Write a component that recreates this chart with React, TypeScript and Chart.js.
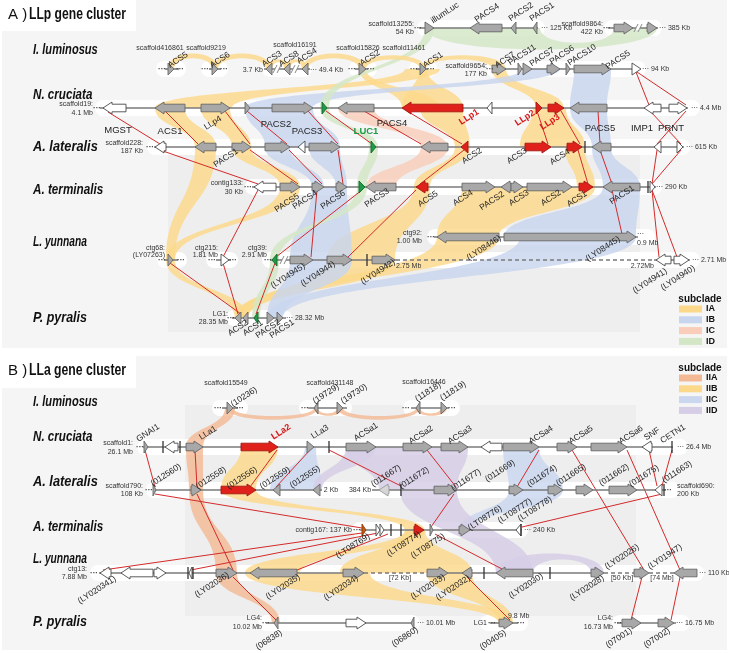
import { useEffect, useRef } from "react";
import { Chart, registerables } from "chart.js";

Chart.register(...registerables);

// ---------------- rows (layout units, 0 = top) ----------------
const A_LUM1 = 28, A_LUM2 = 69, A_CRU = 108, A_LAT = 147, A_TER = 187, A_YUN1 = 237, A_YUN2 = 260, A_PYR = 318;
const B_LUM = 408, B_CRU = 447, B_LAT = 490, B_TER = 530, B_YUN = 573, B_PYR = 623;

// ---------------- genes: [start, end, row, strand (1 fwd, -1 rev, 0 marker), type] ----------------
const GENES_A = [
  [425, 434, A_LUM1, 1, "g"], [470, 502, A_LUM1, -1, "g"], [511, 516, A_LUM1, -1, "g"], [533, 537, A_LUM1, -1, "g"],
  [614, 633, A_LUM1, 1, "g"], [647, 657, A_LUM1, 1, "g"],
  [168, 174, A_LUM2, 1, "g"], [212, 218, A_LUM2, 1, "g"], [266, 272, A_LUM2, -1, "g"], [284, 290, A_LUM2, -1, "g"],
  [302, 308, A_LUM2, -1, "g"], [359, 366, A_LUM2, 1, "g"], [420, 426, A_LUM2, 1, "g"], [492, 506, A_LUM2, 1, "g"],
  [518, 522, A_LUM2, 1, "g"], [523, 532, A_LUM2, 1, "g"], [547, 560, A_LUM2, 1, "g"], [566, 570, A_LUM2, 1, "g"],
  [574, 611, A_LUM2, 1, "g"], [632, 641, A_LUM2, 1, "w"],
  [103, 126, A_CRU, -1, "w"], [155, 185, A_CRU, -1, "g"], [201, 230, A_CRU, 1, "g"], [245, 250, A_CRU, 1, "g"],
  [272, 313, A_CRU, 1, "g"], [322, 327, A_CRU, 1, "G"], [338, 374, A_CRU, -1, "g"], [402, 463, A_CRU, -1, "r"],
  [487, 492, A_CRU, -1, "w"], [536, 542, A_CRU, 1, "r"], [548, 564, A_CRU, 1, "r"], [570, 607, A_CRU, -1, "g"],
  [644, 661, A_CRU, -1, "w"], [669, 687, A_CRU, 1, "w"],
  [155, 166, A_LAT, -1, "w"], [195, 216, A_LAT, -1, "g"], [232, 251, A_LAT, 1, "g"], [265, 290, A_LAT, 1, "g"],
  [298, 305, A_LAT, -1, "w"], [309, 340, A_LAT, 1, "g"], [371, 376, A_LAT, 1, "G"], [421, 448, A_LAT, -1, "g"],
  [461, 468, A_LAT, -1, "r"], [525, 551, A_LAT, 1, "r"], [567, 582, A_LAT, 1, "r"], [585, 585, A_LAT, 0, "d"],
  [592, 611, A_LAT, -1, "g"], [654, 661, A_LAT, -1, "w"], [677, 683, A_LAT, 1, "w"],
  [254, 276, A_TER, -1, "w"], [280, 300, A_TER, 1, "g"], [312, 324, A_TER, 1, "g"], [336, 347, A_TER, 1, "g"],
  [359, 365, A_TER, 1, "G"], [366, 396, A_TER, -1, "g"], [416, 428, A_TER, -1, "r"], [462, 495, A_TER, 1, "g"],
  [501, 511, A_TER, -1, "g"], [511, 523, A_TER, 1, "g"], [527, 572, A_TER, 1, "g"], [579, 593, A_TER, 1, "r"],
  [603, 640, A_TER, -1, "g"], [648, 648, A_TER, 0, "d"], [650, 655, A_TER, 1, "w"],
  [437, 499, A_YUN1, -1, "g"], [504, 636, A_YUN1, 1, "g"],
  [168, 173, A_YUN2, 1, "g"], [221, 229, A_YUN2, 1, "w"], [272, 277, A_YUN2, -1, "G"], [290, 313, A_YUN2, 1, "g"],
  [327, 352, A_YUN2, 1, "g"], [367, 367, A_YUN2, 0, "d"], [372, 395, A_YUN2, 1, "g"], [656, 671, A_YUN2, -1, "w"],
  [674, 689, A_YUN2, 1, "w"],
  [235, 241, A_PYR, -1, "g"], [243, 248, A_PYR, -1, "g"], [254, 258, A_PYR, -1, "G"], [267, 274, A_PYR, 1, "g"],
  [277, 283, A_PYR, 1, "g"],
];

const GENES_B = [
  [227, 233, B_LUM, 1, "g"], [314, 318, B_LUM, -1, "g"], [337, 343, B_LUM, 1, "g"], [416, 420, B_LUM, -1, "g"],
  [441, 447, B_LUM, 1, "g"],
  [144, 148, B_CRU, 1, "g"], [163, 163, B_CRU, 0, "d"], [165, 178, B_CRU, -1, "w"], [180, 180, B_CRU, 0, "d"],
  [186, 203, B_CRU, 1, "g"], [241, 278, B_CRU, 1, "r"], [307, 314, B_CRU, 1, "g"], [329, 329, B_CRU, 0, "d"],
  [346, 376, B_CRU, 1, "g"], [403, 432, B_CRU, 1, "g"], [441, 468, B_CRU, 1, "g"], [481, 502, B_CRU, -1, "w"],
  [503, 539, B_CRU, 1, "g"], [557, 577, B_CRU, 1, "g"], [591, 627, B_CRU, 1, "g"], [642, 652, B_CRU, -1, "w"],
  [672, 672, B_CRU, 0, "d"],
  [153, 156, B_LAT, 1, "g"], [191, 201, B_LAT, 1, "g"], [221, 256, B_LAT, 1, "r"], [273, 280, B_LAT, -1, "g"],
  [313, 320, B_LAT, -1, "g"], [379, 389, B_LAT, -1, "l"], [401, 401, B_LAT, 0, "d"], [434, 457, B_LAT, 1, "g"],
  [509, 523, B_LAT, 1, "g"], [548, 563, B_LAT, 1, "g"], [576, 593, B_LAT, 1, "g"], [609, 637, B_LAT, 1, "g"],
  [655, 662, B_LAT, -1, "w"], [664, 664, B_LAT, 0, "d"],
  [362, 366, B_TER, 1, "o"], [376, 380, B_TER, 1, "w"], [380, 384, B_TER, 1, "w"], [391, 391, B_TER, 0, "d"],
  [401, 401, B_TER, 0, "d"], [414, 424, B_TER, 1, "r"], [430, 433, B_TER, 1, "g"], [459, 470, B_TER, 1, "g"],
  [516, 521, B_TER, -1, "w"], [521, 521, B_TER, 0, "d"],
  [100, 111, B_YUN, -1, "w"], [121, 153, B_YUN, -1, "w"], [154, 166, B_YUN, 1, "w"], [188, 188, B_YUN, 0, "d"],
  [189, 192, B_YUN, -1, "w"], [193, 193, B_YUN, 0, "d"], [216, 237, B_YUN, 1, "g"], [250, 297, B_YUN, -1, "g"],
  [343, 364, B_YUN, 1, "g"], [427, 448, B_YUN, 1, "g"], [462, 472, B_YUN, -1, "g"], [484, 484, B_YUN, 0, "d"],
  [496, 533, B_YUN, -1, "g"], [550, 550, B_YUN, 0, "d"], [591, 604, B_YUN, 1, "g"], [634, 649, B_YUN, 1, "g"],
  [674, 697, B_YUN, -1, "g"],
  [274, 278, B_PYR, -1, "g"], [346, 366, B_PYR, 1, "w"], [411, 414, B_PYR, -1, "g"], [499, 513, B_PYR, 1, "g"],
  [622, 641, B_PYR, 1, "g"], [658, 674, B_PYR, 1, "g"],
];

// ---------------- chromosome backbones: [start, end, row] ----------------
const BACKBONE_SOLID = [
  [419, 538, A_LUM1], [608, 658, A_LUM1], [165, 179, A_LUM2], [209, 221, A_LUM2], [264, 310, A_LUM2],
  [355, 368, A_LUM2], [416, 428, A_LUM2], [492, 640, A_LUM2], [100, 688, A_CRU], [154, 684, A_LAT],
  [252, 656, A_TER], [434, 638, A_YUN1], [164, 178, A_YUN2], [216, 231, A_YUN2], [270, 396, A_YUN2],
  [654, 690, A_YUN2], [232, 286, A_PYR],
  [222, 238, B_LUM], [308, 347, B_LUM], [411, 449, B_LUM], [143, 673, B_CRU], [153, 322, B_LAT],
  [372, 666, B_LAT], [360, 522, B_TER], [99, 364, B_YUN], [448, 591, B_YUN], [266, 414, B_PYR],
  [490, 518, B_PYR], [617, 676, B_PYR],
];
const BACKBONE_DASHED = [[396, 654, A_YUN2], [364, 427, B_YUN], [604, 634, B_YUN], [649, 674, B_YUN]];
const BREAKS = [[277, A_LUM2], [295, A_LUM2], [638, A_LUM1], [624, A_LUM1], [284, A_YUN2]];

// white track bands: [start, end, row]
const BANDS = [
  [417, 545, A_LUM1], [604, 662, A_LUM1], [156, 186, A_LUM2], [201, 228, A_LUM2], [262, 312, A_LUM2],
  [349, 377, A_LUM2], [409, 437, A_LUM2], [486, 646, A_LUM2], [95, 700, A_CRU], [147, 690, A_LAT],
  [245, 662, A_TER], [427, 655, A_YUN1], [157, 187, A_YUN2], [206, 238, A_YUN2], [262, 700, A_YUN2],
  [226, 292, A_PYR],
  [212, 248, B_LUM], [299, 352, B_LUM], [403, 460, B_LUM], [137, 688, B_CRU], [146, 680, B_LAT],
  [352, 528, B_TER], [90, 704, B_YUN], [258, 420, B_PYR], [480, 528, B_PYR], [612, 690, B_PYR],
];

// ---------------- synteny ribbons: [row1, a1, a2, row2, b1, b2, subclade] ----------------
const RIBBONS_A = [
  [A_LUM2, 419, 427, A_CRU, 402, 463, "IA"], [A_LUM2, 359, 366, A_CRU, 402, 440, "IA"],
  [A_CRU, 155, 232, A_LUM2, 405, 440, "IA"], [A_LUM2, 492, 506, A_CRU, 536, 564, "IA"],
  [A_CRU, 155, 185, A_LAT, 195, 216, "IA"], [A_CRU, 201, 230, A_LAT, 232, 251, "IA"],
  [A_LAT, 195, 216, A_YUN2, 166, 175, "IA"], [A_LAT, 232, 251, A_TER, 280, 300, "IA"],
  [A_TER, 280, 300, A_YUN2, 166, 175, "IA"], [A_YUN2, 166, 175, A_PYR, 235, 248, "IA"],
  [A_CRU, 420, 463, A_LAT, 455, 470, "IA"], [A_LAT, 455, 470, A_TER, 414, 430, "IA"],
  [A_TER, 414, 430, A_YUN2, 327, 395, "IA"], [A_CRU, 533, 566, A_LAT, 520, 585, "IA"],
  [A_LAT, 565, 585, A_TER, 577, 595, "IA"], [A_TER, 462, 595, A_YUN1, 437, 499, "IA"],
  [A_YUN1, 437, 499, A_PYR, 235, 248, "IA"], [A_YUN2, 327, 395, A_PYR, 235, 248, "IA"],
  [A_LUM2, 574, 611, A_CRU, 570, 607, "IB"], [A_CRU, 570, 607, A_LAT, 592, 611, "IB"],
  [A_LAT, 592, 611, A_TER, 603, 640, "IB"], [A_TER, 603, 640, A_YUN1, 504, 636, "IB"],
  [A_YUN1, 520, 636, A_PYR, 267, 283, "IB"], [A_LUM2, 523, 560, A_CRU, 245, 313, "IB"],
  [A_CRU, 245, 313, A_LAT, 265, 340, "IB"], [A_LAT, 265, 290, A_TER, 312, 324, "IB"],
  [A_LAT, 309, 340, A_TER, 336, 347, "IB"], [A_TER, 312, 347, A_YUN2, 290, 352, "IB"],
  [A_YUN2, 290, 352, A_PYR, 267, 283, "IB"],
  [A_CRU, 338, 374, A_LAT, 421, 448, "IC"], [A_LAT, 421, 448, A_TER, 366, 396, "IC"],
  [A_LUM1, 425, 434, A_CRU, 320, 329, "ID"], [A_CRU, 320, 329, A_LAT, 369, 378, "ID"],
  [A_LAT, 369, 378, A_TER, 357, 367, "ID"], [A_TER, 357, 367, A_YUN2, 270, 279, "ID"],
  [A_YUN2, 270, 279, A_PYR, 252, 260, "ID"],
];
const RIBBONS_B = [
  [B_LUM, 225, 235, B_CRU, 186, 203, "IIA"], [B_CRU, 186, 203, B_LAT, 189, 203, "IIA"],
  [B_LAT, 189, 203, B_YUN, 216, 237, "IIA"], [B_YUN, 216, 237, B_PYR, 272, 280, "IIA"],
  [B_CRU, 241, 278, B_LAT, 221, 256, "IIB"], [B_LAT, 221, 256, B_TER, 405, 425, "IIB"],
  [B_TER, 405, 425, B_YUN, 245, 300, "IIB"], [B_TER, 405, 425, B_YUN, 340, 472, "IIB"],
  [B_YUN, 427, 472, B_PYR, 499, 513, "IIB"], [B_YUN, 245, 370, B_PYR, 499, 513, "IIB"],
  [B_CRU, 305, 316, B_LAT, 270, 322, "IIC"], [B_CRU, 503, 539, B_LAT, 509, 563, "IIC"],
  [B_LAT, 509, 563, B_TER, 459, 470, "IIC"],
  [B_CRU, 346, 468, B_LAT, 379, 457, "IID"], [B_CRU, 346, 376, B_LAT, 313, 322, "IID"],
  [B_LAT, 400, 457, B_YUN, 496, 533, "IID"],
];
// same-row arcs: [row, a1, a2, b1, b2, height (+ up / - down), subclade]
const ARCS = [
  [A_LUM2, 168, 174, 212, 218, 16, "IA"], [A_LUM2, 212, 218, 266, 272, 16, "IA"],
  [A_LUM2, 266, 272, 284, 290, 10, "IA"], [A_LUM2, 284, 290, 302, 308, 10, "IA"],
  [A_LUM2, 302, 308, 359, 366, 16, "IA"], [A_LUM2, 359, 366, 420, 426, 14, "IA"],
  [A_LUM2, 420, 426, 492, 506, 14, "IA"], [A_LUM1, 425, 540, 614, 657, -22, "ID"],
  [B_LUM, 227, 233, 314, 318, -12, "IIA"], [B_LUM, 314, 318, 337, 343, -8, "IIA"],
  [B_LUM, 337, 343, 416, 420, -12, "IIA"], [B_LUM, 416, 420, 441, 447, -8, "IIA"],
  [B_YUN, 496, 533, 591, 604, 20, "IID"],
];

// ---------------- orthology connectors: [x1, y1, x2, y2] ----------------
const LINKS = [
  [108, 112, 160, 144], [160, 150, 258, 184], [258, 190, 223, 257], [223, 263, 238, 314], [170, 263, 241, 314],
  [275, 263, 256, 314], [165, 111, 198, 144], [225, 111, 250, 144], [247, 111, 287, 144], [308, 111, 338, 144],
  [326, 111, 372, 144], [364, 111, 421, 144], [407, 111, 462, 144], [537, 111, 548, 144], [561, 111, 580, 144],
  [598, 111, 600, 144], [636, 72, 649, 105], [637, 72, 686, 105], [650, 111, 681, 144], [686, 111, 657, 144],
  [657, 150, 652, 184], [681, 150, 652, 184], [652, 190, 659, 257], [652, 190, 677, 257], [464, 150, 420, 184],
  [416, 190, 348, 257], [578, 150, 588, 184], [600, 150, 612, 184], [612, 190, 622, 234], [362, 190, 276, 257],
  [338, 150, 343, 184], [289, 150, 322, 184], [250, 150, 298, 184], [317, 190, 311, 257],
  [145, 450, 155, 487], [155, 494, 362, 528], [195, 450, 197, 487], [197, 494, 233, 570], [233, 577, 276, 620],
  [277, 450, 250, 487], [310, 450, 276, 487], [329, 450, 401, 486], [427, 450, 456, 487], [454, 494, 431, 527],
  [539, 450, 517, 487], [572, 450, 644, 570], [642, 577, 631, 620], [627, 450, 680, 570], [680, 577, 671, 620],
  [649, 450, 657, 486], [672, 450, 662, 486], [662, 494, 522, 527], [362, 533, 103, 570], [378, 533, 191, 570],
  [388, 534, 297, 570], [435, 534, 502, 569], [467, 577, 510, 620],
];

// ---------------- text ----------------
const SPECIES = [
  ["I. luminosus", 33, 50], ["N. cruciata", 33, 95], ["A. lateralis", 33, 147], ["A. terminalis", 33, 190],
  ["L. yunnana", 33, 242], ["P. pyralis", 33, 318],
  ["I. luminosus", 33, 402], ["N. cruciata", 33, 437], ["A. lateralis", 33, 482], ["A. terminalis", 33, 527],
  ["L. yunnana", 33, 559], ["P. pyralis", 33, 622],
];
const SMALL_RIGHT = [
  ["scaffold13255:", 414, 24], ["54 Kb", 414, 32], ["scaffold9864:", 603, 24], ["422 Kb", 603, 32],
  ["scaffold9654:", 487, 66], ["177 Kb", 487, 74], ["3.7 Kb", 263, 70], ["scaffold19:", 93, 104], ["4.1 Mb", 93, 113],
  ["scaffold228:", 143, 143], ["187 Kb", 143, 151], ["contig133:", 243, 183], ["30 Kb", 243, 192],
  ["ctg92:", 422, 233], ["1.00 Mb", 422, 241], ["ctg68:", 165, 248], ["(LY07263)", 165, 255],
  ["ctg215:", 218, 248], ["1.81 Mb", 218, 255], ["ctg39:", 267, 248], ["2.91 Mb", 267, 255],
  ["2.72Mb", 654, 266], ["LG1:", 228, 314], ["28.35 Mb", 228, 322],
  ["scaffold1:", 133, 443], ["26.1 Mb", 133, 452], ["scaffold790:", 143, 486], ["108 Kb", 143, 494],
  ["contig167: 137 Kb", 352, 530], ["ctg13:", 87, 569], ["7.88 Mb", 87, 577], ["LG4:", 262, 618],
  ["10.02 Mb", 262, 627], ["LG1", 487, 623], ["LG4:", 613, 618], ["16.73 Mb", 613, 627],
];
const SMALL_LEFT = [
  ["··· 125 Kb", 541, 28], ["··· 385 Kb", 659, 28], ["··· 49.4 Kb", 310, 70], ["··· 94 Kb", 642, 69],
  ["··· 4.4 Mb", 691, 108], ["··· 615 Kb", 686, 147], ["··· 290 Kb", 656, 187], ["···", 637, 234],
  ["0.9 Mb", 637, 243], ["2.75 Mb", 396, 266], ["··· 2.71 Mb", 692, 260], ["··· 28.32 Mb", 286, 318],
  ["··· 26.4 Mb", 677, 447], ["scaffold690:", 677, 486], ["200 Kb", 677, 494], ["··· 240 Kb", 524, 530],
  ["··· 110 Kb", 699, 573], ["··· 10.01 Mb", 417, 623], ["··· 16.75 Mb", 676, 623], ["9.8 Mb", 508, 616],
];
const SMALL_CENTER = [
  ["scaffold416861", 160, 48], ["scaffold9219", 206, 48], ["scaffold16191", 295, 45], ["scaffold15826", 358, 48],
  ["scaffold11461", 404, 48],
  ["scaffold15549", 226, 383], ["scaffold431148", 330, 383], ["scaffold16446", 424, 382], ["2 Kb", 331, 490],
  ["384 Kb", 360, 490], ["[72 Kb]", 400, 578], ["[50 Kb]", 622, 578], ["[74 Mb]", 662, 578],
];
const DOTS = [
  [162, A_LUM2], [180, A_LUM2], [205, A_LUM2], [224, A_LUM2], [352, A_LUM2], [371, A_LUM2], [414, A_LUM2],
  [431, A_LUM2], [418, A_LUM1], [607, A_LUM1], [490, A_LUM2], [97, A_CRU], [150, A_LAT], [248, A_TER],
  [431, A_YUN1], [162, A_YUN2], [181, A_YUN2], [212, A_YUN2], [233, A_YUN2], [268, A_YUN2], [231, A_PYR],
  [218, B_LUM], [240, B_LUM], [305, B_LUM], [406, B_LUM], [452, B_LUM], [140, B_CRU], [149, B_LAT], [668, B_LAT],
  [357, B_TER], [94, B_YUN], [266, B_PYR], [492, B_PYR], [521, B_PYR], [618, B_PYR],
];
const GENE_FLAT = [
  ["MGST", 118, 130], ["ACS1", 170, 131], ["PACS2", 276, 124], ["PACS3", 307, 131], ["PACS4", 392, 123],
  ["PACS5", 600, 128], ["IMP1", 642, 128], ["PRNT", 671, 128],
];
const GREEN_FLAT = [["LUC1", 366, 131]];
const RED_TILTED = [["LLp1", 469, 117], ["LLp2", 525, 118], ["LLp3", 550, 122], ["LLa2", 281, 432]];
const GENE_TILTED = [
  ["ACS5", 178, 60], ["ACS6", 220, 60], ["ACS3", 272, 59], ["ACS8", 289, 59], ["ACS4", 307, 56], ["ACS2", 370, 58],
  ["ACS1", 433, 60], ["ACS7", 505, 60], ["PACS11", 522, 55], ["PACS7", 542, 57], ["PACS6", 562, 55],
  ["PACS10", 582, 55], ["PACS5", 618, 60], ["illumLuc", 445, 13], ["PACS4", 487, 13], ["PACS2", 521, 12],
  ["PACS1", 542, 12], ["LLp4", 213, 123], ["PACS1", 226, 158], ["ACS2", 472, 156], ["ACS3", 517, 156],
  ["ACS4", 560, 157], ["PACS5", 287, 203], ["PACS4", 305, 200], ["PACS6", 333, 200], ["PACS3", 377, 198],
  ["ACS5", 428, 199], ["ACS4", 463, 198], ["PACS2", 492, 201], ["ACS3", 519, 198], ["ACS2", 551, 198],
  ["ACS1", 577, 199], ["PACS1", 622, 195], ["(LY08446)", 484, 248], ["(LY08445)", 603, 249],
  ["(LY04945)", 288, 276], ["(LY04944)", 318, 274], ["(LY04942)", 378, 272], ["(LY04941)", 650, 281],
  ["(LY04940)", 678, 278], ["ACS2", 238, 328], ["ACS1", 253, 328], ["PACS2", 268, 329], ["PACS1", 282, 329],
  ["(10236)", 244, 397], ["(19729)", 326, 394], ["(19730)", 354, 394], ["(11818)", 428, 392], ["(11819)", 453, 391],
  ["GNAI1", 148, 433], ["LLa1", 208, 433], ["LLa3", 320, 432], ["ACSa1", 366, 432], ["ACSa2", 421, 435],
  ["ACSa3", 460, 435], ["ACSa4", 541, 435], ["ACSa5", 581, 435], ["ACSa6", 631, 435], ["SNF", 652, 434],
  ["CETN1", 673, 434], ["(012560)", 166, 475], ["(012558)", 211, 478], ["(012556)", 242, 478],
  ["(012559)", 275, 478], ["(012555)", 305, 477], ["(011667)", 386, 476], ["(011672)", 414, 478],
  ["(011677)", 466, 480], ["(011669)", 500, 471], ["(011674)", 542, 476], ["(011665)", 571, 475],
  ["(011662)", 614, 475], ["(011675)", 644, 476], ["(011663)", 677, 472], ["(LT08769)", 353, 546],
  ["(LT08774)", 404, 544], ["(LT08775)", 428, 546], ["(LT08776)", 485, 518], ["(LT08777)", 515, 511],
  ["(LT08778)", 535, 509], ["(LY020341)", 97, 590], ["(LY02036)", 212, 585], ["(LY02035)", 283, 587],
  ["(LY02034)", 341, 588], ["(LY02033)", 428, 587], ["(LY02032)", 453, 588], ["(LY02030)", 526, 586],
  ["(LY02028)", 587, 588], ["(LY02026)", 622, 557], ["(LY01947)", 665, 557], ["(06838)", 269, 640],
  ["(06860)", 405, 637], ["(00405)", 493, 640], ["(07001)", 619, 638], ["(07002)", 657, 638],
];
const LEGEND_A = ["IA", "IB", "IC", "ID"];
const LEGEND_B = ["IIA", "IIB", "IIC", "IID"];

// ---------------- styles ----------------
const SUBCLADE_COLOR: Record<string, string> = {
  IA: "#fcd98a", IB: "#c8d5ef", IC: "#f9cdb9", ID: "#d3e6c6",
  IIA: "#f3b995", IIB: "#fcd98a", IIC: "#cbd7ef", IID: "#d6cde6",
};
const FILL: Record<string, string> = { g: "#a8a8a8", r: "#e0211b", w: "#ffffff", G: "#1f9b47", l: "#d6d6d6", o: "#c55a11" };
const STROKE: Record<string, string> = { g: "#666666", r: "#a51510", w: "#4a4a4a", G: "#136a2c", l: "#9a9a9a", o: "#8a3a08" };
const PANELS = [
  [2, 0, 727, 348, "#f5f5f5"], [168, 152, 640, 332, "#eeeeee"], [0, 0, 136, 31, "#ffffff"],
  [2, 356, 727, 650, "#f5f5f5"], [185, 405, 636, 616, "#eeeeee"], [0, 355, 136, 388, "#ffffff"],
];
const NARROW = '"Liberation Sans Narrow", "Liberation Sans", Arial, sans-serif';
const SANS = '"Liberation Sans", Arial, sans-serif';

const diagramPlugin = {
  id: "diagram",
  beforeDatasetsDraw(chart: any) {
    const ctx = chart.ctx;
    const X = (v: number) => chart.scales.x.getPixelForValue(v);
    const Y = (v: number) => chart.scales.y.getPixelForValue(v);
    ctx.save();
    PANELS.forEach((p: any) => {
      ctx.fillStyle = p[4];
      ctx.fillRect(X(p[0]), Y(p[1]), X(p[2]) - X(p[0]), Y(p[3]) - Y(p[1]));
    });
    ctx.fillStyle = "#ffffff";
    BANDS.forEach(([a, b, r]) => {
      const y = Y(r);
      ctx.beginPath();
      ctx.roundRect(X(a), y - 8, X(b) - X(a), 16, 8);
      ctx.fill();
    });
    ctx.globalAlpha = 0.82;
    [...RIBBONS_A, ...RIBBONS_B].forEach((rb: any) => {
      const [r1, a1, a2, r2, b1, b2, c] = rb;
      const ya = Y(r1), yb = Y(r2), ym = (ya + yb) / 2;
      ctx.fillStyle = SUBCLADE_COLOR[c];
      ctx.beginPath();
      ctx.moveTo(X(a1), ya);
      ctx.lineTo(X(a2), ya);
      ctx.bezierCurveTo(X(a2), ym, X(b2), ym, X(b2), yb);
      ctx.lineTo(X(b1), yb);
      ctx.bezierCurveTo(X(b1), ym, X(a1), ym, X(a1), ya);
      ctx.closePath();
      ctx.fill();
    });
    ARCS.forEach((ar: any) => {
      const [r, a1, a2, b1, b2, h, c] = ar;
      const y = Y(r);
      const d = y - Y(r - h);
      const outer = y - d * 1.3;
      const inner = y - d * 0.9;
      ctx.fillStyle = SUBCLADE_COLOR[c];
      ctx.beginPath();
      ctx.moveTo(X(a1), y);
      ctx.bezierCurveTo(X(a1), outer, X(b2), outer, X(b2), y);
      ctx.lineTo(X(b1), y);
      ctx.bezierCurveTo(X(b1), inner, X(a2), inner, X(a2), y);
      ctx.closePath();
      ctx.fill();
    });
    ctx.restore();
  },
  afterDatasetsDraw(chart: any) {
    const ctx = chart.ctx;
    const X = (v: number) => chart.scales.x.getPixelForValue(v);
    const Y = (v: number) => chart.scales.y.getPixelForValue(v);
    ctx.save();
    ctx.strokeStyle = "#7a7a7a";
    ctx.lineWidth = 1.6;
    BACKBONE_SOLID.forEach(([a, b, r]) => {
      ctx.beginPath(); ctx.moveTo(X(a), Y(r)); ctx.lineTo(X(b), Y(r)); ctx.stroke();
    });
    ctx.setLineDash([4, 3]);
    BACKBONE_DASHED.forEach(([a, b, r]) => {
      ctx.beginPath(); ctx.moveTo(X(a), Y(r)); ctx.lineTo(X(b), Y(r)); ctx.stroke();
    });
    ctx.setLineDash([]);
    BREAKS.forEach(([x, r]) => {
      const px = X(x), py = Y(r);
      ctx.fillStyle = "#ffffff";
      ctx.fillRect(px - 2, py - 2, 4, 4);
      ctx.strokeStyle = "#8a8a8a"; ctx.lineWidth = 1;
      ctx.beginPath();
      ctx.moveTo(px - 4, py + 4); ctx.lineTo(px, py - 4);
      ctx.moveTo(px, py + 4); ctx.lineTo(px + 4, py - 4);
      ctx.stroke();
    });
    [...GENES_A, ...GENES_B].forEach((g: any) => {
      const [s, e, r, dir, t] = g;
      const x1 = X(s), x2 = X(e), y = Y(r);
      if (dir === 0) {
        ctx.strokeStyle = "#333333"; ctx.lineWidth = 1.3;
        ctx.beginPath(); ctx.moveTo(x1, y - 6); ctx.lineTo(x1, y + 6); ctx.stroke();
        return;
      }
      const len = x2 - x1;
      const bh = 3.8, hh = 6, hl = Math.min(9, len);
      ctx.beginPath();
      if (dir === 1) {
        const hx = x2 - hl;
        if (len <= 9) {
          ctx.moveTo(x1, y - hh); ctx.lineTo(x2, y); ctx.lineTo(x1, y + hh);
        } else {
          ctx.moveTo(x1, y - bh); ctx.lineTo(hx, y - bh); ctx.lineTo(hx, y - hh); ctx.lineTo(x2, y);
          ctx.lineTo(hx, y + hh); ctx.lineTo(hx, y + bh); ctx.lineTo(x1, y + bh);
        }
      } else {
        const hx = x1 + hl;
        if (len <= 9) {
          ctx.moveTo(x2, y - hh); ctx.lineTo(x1, y); ctx.lineTo(x2, y + hh);
        } else {
          ctx.moveTo(x2, y - bh); ctx.lineTo(hx, y - bh); ctx.lineTo(hx, y - hh); ctx.lineTo(x1, y);
          ctx.lineTo(hx, y + hh); ctx.lineTo(hx, y + bh); ctx.lineTo(x2, y + bh);
        }
      }
      ctx.closePath();
      ctx.fillStyle = FILL[t];
      ctx.fill();
      ctx.strokeStyle = STROKE[t];
      ctx.lineWidth = 0.9;
      ctx.stroke();
    });
    ctx.textBaseline = "middle";
    const put = (s: string, x: number, y: number, font: string, color: string, align: string, rot = 0, maxW?: number) => {
      ctx.save();
      ctx.font = font; ctx.fillStyle = color; ctx.textAlign = align;
      ctx.translate(X(x), Y(y));
      if (rot) ctx.rotate(rot);
      if (maxW) ctx.fillText(s, 0, 0, maxW); else ctx.fillText(s, 0, 0);
      ctx.restore();
    };
    const tilt = (-33 * Math.PI) / 180;
    SPECIES.forEach(([s, x, y]: any) => put(s, x, y, `italic bold 14px ${NARROW}`, "#111111", "left", 0, s.length * 5.4));
    SMALL_RIGHT.forEach(([s, x, y]: any) => put(s, x, y, `7px ${SANS}`, "#333333", "right"));
    SMALL_LEFT.forEach(([s, x, y]: any) => put(s, x, y, `7px ${SANS}`, "#333333", "left"));
    SMALL_CENTER.forEach(([s, x, y]: any) => put(s, x, y, `7px ${SANS}`, "#333333", "center"));
    DOTS.forEach(([x, y]: any) => put("···", x, y, `bold 8px ${SANS}`, "#444444", "center"));
    GENE_FLAT.forEach(([s, x, y]: any) => put(s, x, y, `9.5px ${NARROW}`, "#222222", "center"));
    GREEN_FLAT.forEach(([s, x, y]: any) => put(s, x, y, `bold 9.5px ${NARROW}`, "#1f9b47", "center"));
    RED_TILTED.forEach(([s, x, y]: any) => put(s, x, y, `bold 9px ${NARROW}`, "#d7191c", "center", tilt));
    GENE_TILTED.forEach(([s, x, y]: any) => put(s, x, y, `8.5px ${NARROW}`, "#222222", "center", tilt));
    put("A )", 8, 15, `15px ${SANS}`, "#111111", "left");
    put("LLp gene cluster", 29, 15, `bold 16px ${NARROW}`, "#111111", "left", 0, 97);
    put("B )", 8, 371, `15px ${SANS}`, "#111111", "left");
    put("LLa gene cluster", 29, 371, `bold 16px ${NARROW}`, "#111111", "left", 0, 97);
    const legend = (items: string[], top: number) => {
      put("subclade", 700, top, `bold 10px ${SANS}`, "#111111", "center");
      items.forEach((k, i) => {
        const yc = top + 10 + i * 10.8;
        ctx.fillStyle = SUBCLADE_COLOR[k];
        ctx.fillRect(X(679), Y(yc) - 3.5, X(702) - X(679), 7);
        put(k, 706, yc, `bold 9px ${SANS}`, "#111111", "left");
      });
    };
    legend(LEGEND_A, 299);
    legend(LEGEND_B, 368);
    ctx.restore();
  },
};

export default function App() {
  const ref = useRef<HTMLCanvasElement | null>(null);
  useEffect(() => {
    if (!ref.current) return;
    const chart = new Chart(ref.current, {
      type: "scatter",
      data: {
        datasets: LINKS.map(([x1, y1, x2, y2]) => ({
          data: [{ x: x1, y: y1 }, { x: x2, y: y2 }],
          showLine: true,
          borderColor: "#d42a2a",
          borderWidth: 1,
          pointRadius: 0,
        })),
      },
      options: {
        animation: false,
        responsive: false,
        devicePixelRatio: 1,
        layout: { padding: 0 },
        events: [],
        scales: {
          x: { type: "linear", min: 0, max: 729, display: false },
          y: { type: "linear", min: 0, max: 653, reverse: true, display: false },
        },
        plugins: { legend: { display: false }, tooltip: { enabled: false } },
      },
      plugins: [diagramPlugin],
    } as any);
    return () => chart.destroy();
  }, []);
  return (
    <div style={{ position: "absolute", left: 0, top: 0, width: 729, height: 653, background: "#fff" }}>
      <canvas ref={ref} width={729} height={653} style={{ display: "block" }} />
    </div>
  );
}
